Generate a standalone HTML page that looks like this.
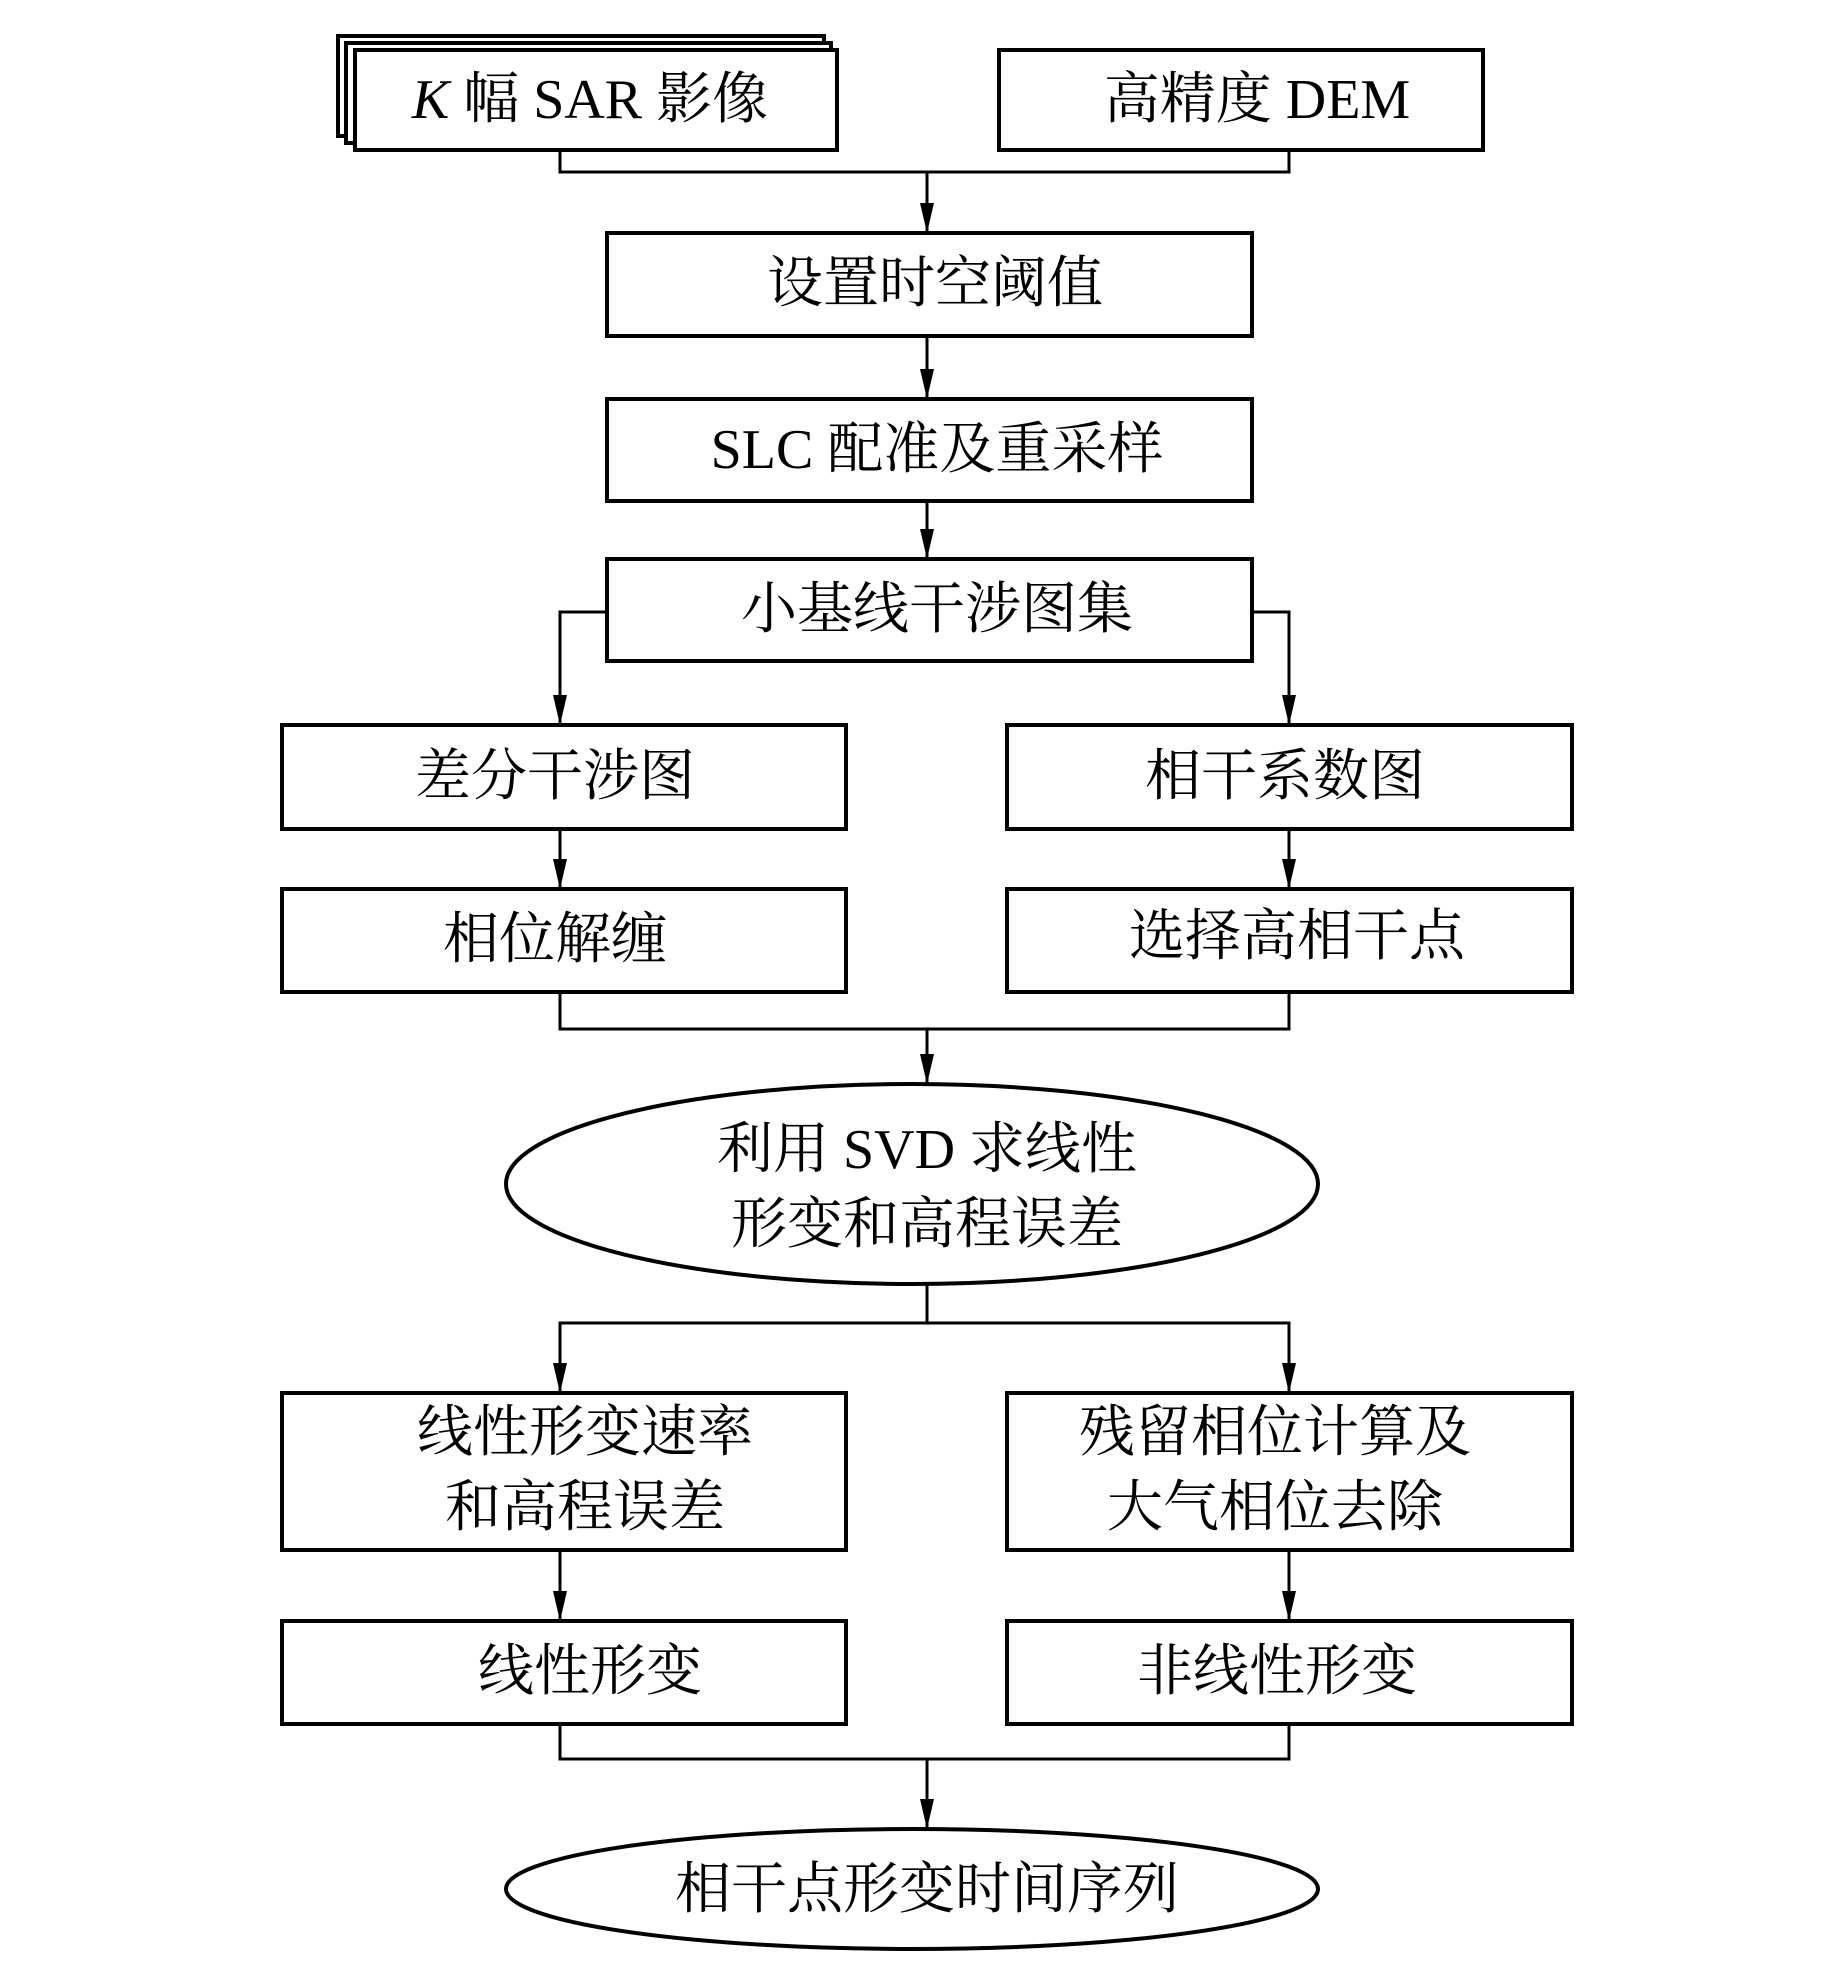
<!DOCTYPE html>
<html><head><meta charset="utf-8"><style>
html,body{margin:0;padding:0;background:#fff;}
svg{display:block;}
text{font-family:"Liberation Serif","Noto Serif CJK SC",serif;font-size:56px;fill:#000;text-anchor:middle;dominant-baseline:central;}
</style></head><body>
<svg width="1843" height="1961" viewBox="0 0 1843 1961" xmlns="http://www.w3.org/2000/svg">
<defs><marker id="a" markerWidth="14" markerHeight="32" refX="7" refY="30" orient="auto" markerUnits="userSpaceOnUse"><path d="M0,0 L14,0 L7,30 Z" fill="#000"/></marker>
<marker id="b" markerWidth="32" markerHeight="14" refX="30" refY="7" orient="auto" markerUnits="userSpaceOnUse"><path d="M0,0 L30,7 L0,14 Z" fill="#000"/></marker></defs>
<g fill="#fff" stroke="#000" stroke-width="4">
<rect x="338" y="36" width="486" height="100"/>
<rect x="346" y="43" width="485" height="100"/>
<rect x="355" y="50" width="482" height="100"/>
<rect x="999" y="50" width="484" height="100"/>
<rect x="607" y="233" width="645" height="103"/>
<rect x="607" y="399" width="645" height="102"/>
<rect x="607" y="559" width="645" height="102"/>
<rect x="282" y="725" width="564" height="104"/>
<rect x="1007" y="725" width="565" height="104"/>
<rect x="282" y="889" width="564" height="103"/>
<rect x="1007" y="889" width="565" height="103"/>
<ellipse cx="912" cy="1184" rx="406" ry="100"/>
<rect x="282" y="1393" width="564" height="157"/>
<rect x="1007" y="1393" width="565" height="157"/>
<rect x="282" y="1621" width="564" height="103"/>
<rect x="1007" y="1621" width="565" height="103"/>
<ellipse cx="912" cy="1889" rx="406" ry="60"/>
</g>
<g fill="none" stroke="#000" stroke-width="3">
<polyline points="560,150 560,172 1289,172 1289,150"/>
<line x1="927" y1="172" x2="927" y2="233" marker-end="url(#b)"/>
<line x1="927" y1="336" x2="927" y2="399" marker-end="url(#b)"/>
<line x1="927" y1="501" x2="927" y2="559" marker-end="url(#b)"/>
<polyline points="607,612 560,612 560,725" marker-end="url(#b)"/>
<polyline points="1252,612 1289,612 1289,725" marker-end="url(#b)"/>
<line x1="560" y1="829" x2="560" y2="889" marker-end="url(#b)"/>
<line x1="1289" y1="829" x2="1289" y2="889" marker-end="url(#b)"/>
<polyline points="560,992 560,1029 1289,1029 1289,992"/>
<line x1="927" y1="1029" x2="927" y2="1084" marker-end="url(#b)"/>
<line x1="927" y1="1284" x2="927" y2="1323"/>
<polyline points="560,1393 560,1323 1289,1323 1289,1393"/>
<line x1="560" y1="1360" x2="560" y2="1393" marker-end="url(#b)"/>
<line x1="1289" y1="1360" x2="1289" y2="1393" marker-end="url(#b)"/>
<line x1="560" y1="1550" x2="560" y2="1621" marker-end="url(#b)"/>
<line x1="1289" y1="1550" x2="1289" y2="1621" marker-end="url(#b)"/>
<polyline points="560,1724 560,1759 1289,1759 1289,1724"/>
<line x1="927" y1="1759" x2="927" y2="1829" marker-end="url(#b)"/>
</g>
<text x="590" y="100"><tspan font-style="italic">K</tspan> 幅 SAR 影像</text>
<text x="1257" y="100">高精度 DEM</text>
<text x="935" y="284">设置时空阈值</text>
<text x="937" y="450">SLC 配准及重采样</text>
<text x="937" y="610">小基线干涉图集</text>
<text x="555" y="777">差分干涉图</text>
<text x="1285" y="777">相干系数图</text>
<text x="555" y="940">相位解缠</text>
<text x="1297" y="937">选择高相干点</text>
<text x="927" y="1150">利用 SVD 求线性</text>
<text x="927" y="1225">形变和高程误差</text>
<text x="585" y="1433">线性形变速率</text>
<text x="585" y="1508">和高程误差</text>
<text x="1275" y="1433">残留相位计算及</text>
<text x="1275" y="1508">大气相位去除</text>
<text x="590" y="1672">线性形变</text>
<text x="1277" y="1672">非线性形变</text>
<text x="927" y="1890">相干点形变时间序列</text>
</svg>
</body></html>
